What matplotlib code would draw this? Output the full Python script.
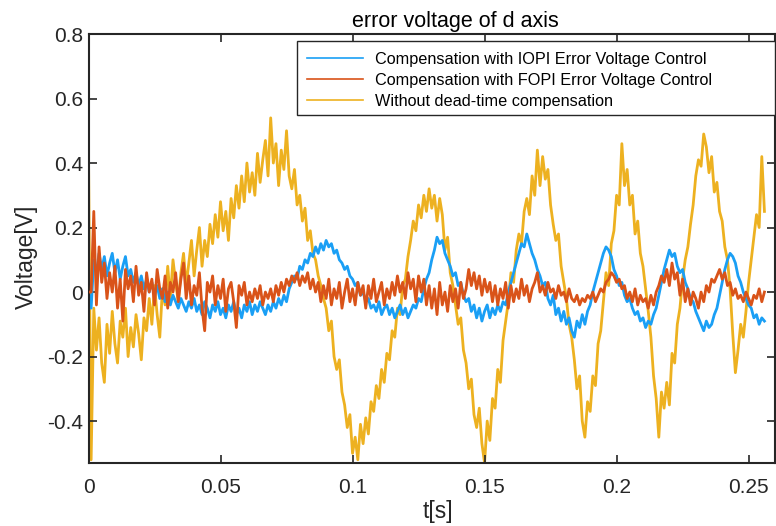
import numpy as np
import matplotlib
matplotlib.use('Agg')
import matplotlib.pyplot as plt
from matplotlib.patches import Rectangle

# sampled error voltage of the d axis, one sample per millisecond
dt = 0.001

v_iopi = [
    0.00, -0.05, 0.10, 0.06, 0.12, 0.07, 0.11, 0.05, 0.09, 0.12,
    0.06, 0.10, 0.04, 0.08, 0.11, 0.05, 0.07, 0.03, 0.06, 0.02,
    0.05, 0.01, 0.04, 0.00, 0.03, -0.01, 0.02, -0.02, 0.01, -0.03,
    0.00, -0.04, -0.01, -0.03, -0.05, -0.02, -0.04, -0.06, -0.03, -0.05,
    -0.02, -0.06, -0.04, -0.07, -0.03, -0.05, -0.08, -0.04, -0.06, -0.03,
    -0.07, -0.05, -0.08, -0.04, -0.06, -0.03, -0.07, -0.05, -0.08, -0.04,
    -0.06, -0.03, -0.07, -0.04, -0.06, -0.03, -0.05, -0.07, -0.04, -0.06,
    -0.03, -0.05, -0.02, -0.04, -0.01, -0.03, 0.01, 0.03, 0.05, 0.04,
    0.08, 0.07, 0.10, 0.09, 0.12, 0.11, 0.14, 0.12, 0.15, 0.13,
    0.16, 0.14, 0.15, 0.12, 0.13, 0.10, 0.09, 0.07, 0.08, 0.05,
    0.04, 0.02, 0.03, -0.01, 0.00, -0.03, -0.02, -0.05, -0.04, -0.06,
    -0.03, -0.07, -0.05, -0.04, -0.07, -0.05, -0.08, -0.06, -0.04, -0.07,
    -0.05, -0.08, -0.06, -0.04, -0.05, -0.02, -0.03, 0.01, 0.04, 0.06,
    0.10, 0.13, 0.17, 0.15, 0.16, 0.12, 0.10, 0.08, 0.05, 0.06,
    0.02, 0.03, -0.01, -0.03, -0.02, -0.06, -0.04, -0.08, -0.05, -0.09,
    -0.06, -0.04, -0.08, -0.05, -0.07, -0.04, -0.06, -0.03, -0.04, 0.00,
    0.03, 0.06, 0.09, 0.12, 0.15, 0.14, 0.18, 0.15, 0.12, 0.10,
    0.07, 0.05, 0.02, 0.03, -0.02, -0.04, -0.01, -0.07, -0.05, -0.09,
    -0.06, -0.10, -0.08, -0.12, -0.14, -0.09, -0.11, -0.07, -0.10, -0.06,
    -0.04, 0.00, 0.03, 0.06, 0.09, 0.12, 0.14, 0.13, 0.11, 0.07,
    0.05, 0.02, 0.03, -0.01, -0.03, -0.02, -0.05, -0.07, -0.06, -0.09,
    -0.08, -0.11, -0.09, -0.10, -0.07, -0.05, -0.01, 0.03, 0.07, 0.10,
    0.13, 0.11, 0.12, 0.08, 0.06, 0.07, 0.03, 0.01, -0.02, -0.03,
    -0.06, -0.08, -0.10, -0.12, -0.09, -0.11, -0.10, -0.07, -0.05, -0.01,
    0.03, 0.07, 0.10, 0.12, 0.11, 0.09, 0.05, 0.03, 0.00, -0.02,
    -0.04, -0.05, -0.08, -0.07, -0.10, -0.08, -0.09,
]

v_fopi = [
    0.00, 0.00, 0.25, -0.04, 0.14, 0.03, 0.09, -0.02, 0.06, 0.00,
    0.08, -0.05, 0.04, -0.09, 0.07, 0.01, 0.05, -0.03, 0.08, -0.01,
    0.03, -0.06, 0.06, 0.00, 0.04, -0.04, 0.07, 0.01, -0.02, 0.05,
    -0.05, 0.03, 0.00, 0.06, -0.03, 0.04, 0.09, -0.02, 0.05, -0.04,
    0.02, -0.01, 0.06, -0.05, -0.12, 0.03, 0.00, 0.05, -0.04, 0.02,
    -0.02, 0.04, -0.06, 0.01, 0.03, -0.03, -0.11, 0.02, -0.01, 0.03,
    -0.04, 0.00, -0.03, 0.01, -0.02, 0.02, -0.04, 0.00, -0.02, 0.01,
    -0.03, 0.02, -0.01, 0.03, 0.00, 0.04, 0.02, 0.05, 0.03, 0.06,
    0.02, 0.05, 0.03, 0.06, 0.01, 0.04, 0.00, 0.03, -0.03, 0.02,
    -0.02, 0.04, -0.04, 0.01, -0.02, 0.03, -0.05, 0.00, 0.04, -0.03,
    0.01, -0.04, 0.03, -0.01, 0.02, -0.05, 0.02, -0.02, 0.04, -0.03,
    0.00, 0.03, -0.04, 0.01, -0.02, 0.03, -0.01, 0.05, 0.00, 0.03,
    -0.02, 0.06, 0.01, 0.04, -0.03, 0.05, 0.00, 0.04, -0.04, 0.02,
    -0.05, 0.01, -0.07, 0.03, -0.04, 0.00, -0.06, 0.02, -0.03, 0.01,
    -0.05, 0.03, -0.02, 0.01, 0.07, 0.02, 0.06, 0.01, 0.05, -0.01,
    0.04, 0.00, 0.03, -0.03, 0.02, -0.04, 0.01, -0.02, 0.03, -0.05,
    0.02, -0.03, 0.01, -0.02, 0.04, -0.01, 0.02, -0.03, 0.01, 0.03,
    0.06, 0.00, 0.02, -0.01, 0.03, 0.00, 0.01, -0.02, 0.02, -0.01,
    0.00, -0.03, 0.01, -0.02, -0.03, -0.01, -0.04, -0.02, -0.03, -0.01,
    -0.02, 0.00, -0.03, -0.01, 0.01, 0.00, 0.03, 0.04, 0.06, 0.05,
    0.03, 0.04, 0.01, 0.02, -0.02, 0.00, -0.03, 0.01, -0.04, -0.01,
    -0.03, -0.02, -0.05, -0.01, -0.04, 0.00, 0.02, 0.05, 0.03, 0.07,
    0.02, 0.09, 0.04, 0.06, -0.01, 0.04, -0.03, 0.01, -0.04, 0.00,
    -0.02, -0.05, 0.00, -0.03, 0.02, 0.00, 0.04, 0.03, 0.05, 0.07,
    0.04, 0.06, 0.02, 0.03, -0.01, 0.01, -0.02, -0.01, -0.03, 0.00,
    -0.02, -0.04, -0.01, -0.02, 0.01, -0.03, 0.00,
]

v_nocomp = [
    0.43, -0.52, -0.05, -0.18, -0.08, -0.22, -0.28, -0.10, -0.19, -0.06,
    -0.16, -0.22, -0.09, -0.14, -0.05, -0.20, -0.11, -0.17, -0.07, -0.13,
    -0.21, -0.08, -0.12, -0.02, -0.10, 0.02, -0.07, -0.14, 0.01, -0.04,
    0.08, -0.02, 0.10, 0.03, -0.03, 0.06, 0.12, 0.02, 0.09, 0.16,
    0.05, 0.13, 0.20, 0.08, 0.16, 0.11, 0.21, 0.15, 0.24, 0.17,
    0.28, 0.19, 0.25, 0.16, 0.29, 0.23, 0.33, 0.26, 0.36, 0.28,
    0.40, 0.31, 0.37, 0.30, 0.43, 0.34, 0.41, 0.47, 0.36, 0.54,
    0.40, 0.46, 0.33, 0.44, 0.38, 0.50, 0.36, 0.32, 0.38, 0.27,
    0.30, 0.22, 0.26, 0.16, 0.19, 0.12, 0.10, 0.05, 0.02, -0.02,
    -0.05, -0.12, -0.09, -0.20, -0.24, -0.21, -0.31, -0.35, -0.42, -0.38,
    -0.50, -0.45, -0.52, -0.41, -0.47, -0.39, -0.44, -0.34, -0.37, -0.29,
    -0.33, -0.24, -0.28, -0.19, -0.21, -0.12, -0.14, -0.05, -0.07, 0.02,
    0.04, 0.11, 0.16, 0.22, 0.19, 0.27, 0.23, 0.30, 0.25, 0.32,
    0.26, 0.30, 0.22, 0.29, 0.24, 0.13, 0.17, 0.06, 0.02, -0.04,
    -0.10, -0.08, -0.18, -0.22, -0.30, -0.27, -0.38, -0.42, -0.36, -0.47,
    -0.53, -0.40, -0.46, -0.33, -0.36, -0.24, -0.28, -0.15, -0.09, -0.03,
    0.06, 0.03, 0.13, 0.18, 0.15, 0.25, 0.29, 0.24, 0.36, 0.30,
    0.44, 0.33, 0.42, 0.35, 0.38, 0.27, 0.21, 0.16, 0.18, 0.08,
    0.03, -0.02, -0.10, -0.14, -0.21, -0.30, -0.26, -0.40, -0.45, -0.34,
    -0.37, -0.26, -0.29, -0.16, -0.12, -0.03, 0.06, 0.02, 0.15, 0.19,
    0.30, 0.27, 0.46, 0.33, 0.38, 0.27, 0.30, 0.18, 0.22, 0.12,
    0.08, 0.01, -0.06, -0.14, -0.26, -0.33, -0.45, -0.31, -0.36, -0.28,
    -0.35, -0.19, -0.22, -0.10, -0.05, 0.04, 0.10, 0.14, 0.21, 0.27,
    0.36, 0.41, 0.39, 0.49, 0.45, 0.37, 0.42, 0.31, 0.34, 0.25,
    0.22, 0.14, 0.10, 0.01, -0.13, -0.25, -0.18, -0.10, -0.14, -0.06,
    0.03, 0.10, 0.17, 0.24, 0.20, 0.42, 0.25,
]

labels = [
    'Compensation with IOPI Error Voltage Control',
    'Compensation with FOPI Error Voltage Control',
    'Without dead-time compensation',
]
colors = ['#1a9ff5', '#d95319', '#edb120']

t = np.arange(len(v_nocomp)) * dt

plt.rcParams['font.family'] = ['Liberation Sans', 'DejaVu Sans']

fig = plt.figure(figsize=(7.76, 5.26), dpi=100)
ax = fig.add_axes([88.5 / 776, 63 / 526, 686.5 / 776, 429 / 526])

l1, = ax.plot(t, v_iopi, color=colors[0], lw=2.0, zorder=2)
l2, = ax.plot(t, v_fopi, color=colors[1], lw=2.0, zorder=3)
l3, = ax.plot(t, v_nocomp, color=colors[2], lw=2.0, zorder=1)

ax.set_xlim(0, 0.26)
ax.set_ylim(-0.53, 0.8)
ax.set_xticks([0, 0.05, 0.1, 0.15, 0.2, 0.25])
ax.set_xticklabels(['0', '0.05', '0.1', '0.15', '0.2', '0.25'])
ax.set_yticks([-0.4, -0.2, 0, 0.2, 0.4, 0.6, 0.8])
ax.set_yticklabels(['-0.4', '-0.2', '0', '0.2', '0.4', '0.6', '0.8'])

dark = '#262626'
for s in ax.spines.values():
    s.set_color(dark)
    s.set_linewidth(1.5)
ax.tick_params(direction='in', length=5.5, width=1.2, colors=dark,
               top=True, right=True, labelsize=15)
ax.tick_params(axis='x', pad=10.5)
ax.tick_params(axis='y', pad=4)

ax.set_title('error voltage of d axis', fontsize=15.5, color='black', pad=5)
ax.title.set_x(0.535)
ax.set_xlabel('t[s]', fontsize=16.5, color=dark)
ax.xaxis.set_label_coords(0.509, -0.086)
ax.set_ylabel('Voltage[V]', fontsize=16.5, color=dark)
ax.yaxis.set_label_coords(-0.0736, 0.48)

# legend box drawn separately so it can keep the wide right margin
box = Rectangle((0.3037, 0.8112), 0.6963, 0.1725, transform=ax.transAxes,
                facecolor='white', edgecolor=dark, lw=1.0,
                clip_on=False, zorder=4)
ax.add_patch(box)
leg = ax.legend([l1, l2, l3], labels, loc='upper left',
                bbox_to_anchor=(0.3183, 0.959), borderaxespad=0,
                borderpad=0, frameon=False, fontsize=11.7,
                handlelength=3.45, handletextpad=0.74, labelspacing=0.38)
leg.set_zorder(5)
for h in leg.get_lines():
    h.set_linewidth(1.2)

fig.savefig('out.png', dpi=100)
